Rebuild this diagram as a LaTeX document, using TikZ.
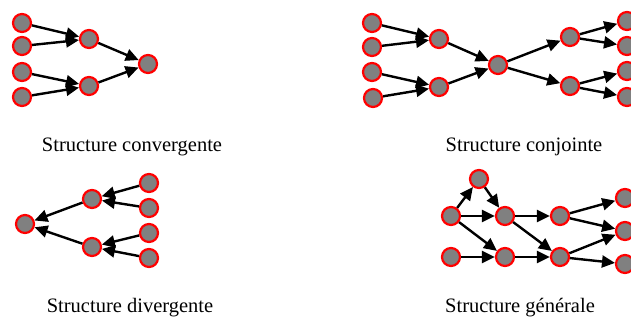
\documentclass[tikz,border=0pt]{standalone}
\usepackage{fontspec}
\setmainfont{Liberation Serif}
\usetikzlibrary{arrows.meta}
\begin{document}
\begin{tikzpicture}[x=1pt,y=-1pt]
\tikzstyle{vtx}=[circle, draw=red, fill=gray, line width=2.2pt,
                        inner sep=0pt, minimum size=18pt]
 \tikzstyle{arr}=[line width=2.4pt, -{Triangle[length=13pt,width=12pt]}]
 \tikzstyle{lbl}=[anchor=base, inner sep=0pt, font=\fontsize{20.5}{25}\selectfont]
	\useasboundingbox (0,0) rectangle (631,320);
	\clip (0,0) rectangle (631,320);

	% convergente
	\node[vtx] (c1) at (22,23){};
	\node[vtx] (c2) at (22,46){};
	\node[vtx] (c3) at (22,72){};
	\node[vtx] (c4) at (22,97){};
	\node[vtx] (c5) at (89,39){};
	\node[vtx] (c6) at (89,86){};
	\node[vtx] (c7) at (148,64){};
	\node[lbl] (tc) at (132,152){Structure convergente};

	% conjointe
	\node[vtx] (j1) at (372,23){};
	\node[vtx] (j2) at (372,47){};
	\node[vtx] (j3) at (372,72){};
	\node[vtx] (j4) at (373,98){};
	\node[vtx] (j5) at (439,39){};
	\node[vtx] (j6) at (439,87){};
	\node[vtx] (j7) at (498,65){};
	\node[vtx] (j8) at (570,37){};
	\node[vtx] (j9) at (570,86){};
	\node[vtx] (j10) at (627,21){};
	\node[vtx] (j11) at (627,46){};
	\node[vtx] (j12) at (627,71){};
	\node[vtx] (j13) at (627,97){};
	\node[lbl] (tj) at (524,152){Structure conjointe};

	% divergente
	\node[vtx] (d1) at (25,224){};
	\node[vtx] (d2) at (92,199){};
	\node[vtx] (d3) at (92,247){};
	\node[vtx] (d4) at (149,183){};
	\node[vtx] (d5) at (149,208){};
	\node[vtx] (d6) at (149,233){};
	\node[vtx] (d7) at (149,258){};
	\node[lbl] (td) at (130,312){Structure divergente};

	% generale
	\node[vtx] (gA) at (479,179){};
	\node[vtx] (gB) at (451,216){};
	\node[vtx] (gC) at (505,216){};
	\node[vtx] (gD) at (560,216){};
	\node[vtx] (gE) at (451,257){};
	\node[vtx] (gF) at (505,257){};
	\node[vtx] (gG) at (560,257){};
	\node[vtx] (gH) at (625,198){};
	\node[vtx] (gI) at (625,231){};
	\node[vtx] (gJ) at (625,264){};
	\node[lbl] (tg) at (520,312){Structure g\'en\'erale};

\foreach \i/\j in {c1/c5,c2/c5,c3/c6,c4/c6,c5/c7,c6/c7}{\draw[arr] (\i) -- (\j);}
\foreach \i/\j in {j1/j5,j2/j5,j3/j6,j4/j6,j5/j7,j6/j7,j7/j8,j7/j9,j8/j10,j8/j11,j9/j12,j9/j13}{\draw[arr] (\i) -- (\j);}
\foreach \i/\j in {d4/d2,d5/d2,d6/d3,d7/d3,d2/d1,d3/d1}{\draw[arr] (\i) -- (\j);}
\foreach \i/\j in {gB/gA,gA/gC,gB/gC,gB/gF,gC/gD,gC/gG,gE/gF,gF/gG,gD/gH,gD/gI,gG/gI,gG/gJ}{\draw[arr] (\i) -- (\j);}

\end{tikzpicture}
\end{document}
